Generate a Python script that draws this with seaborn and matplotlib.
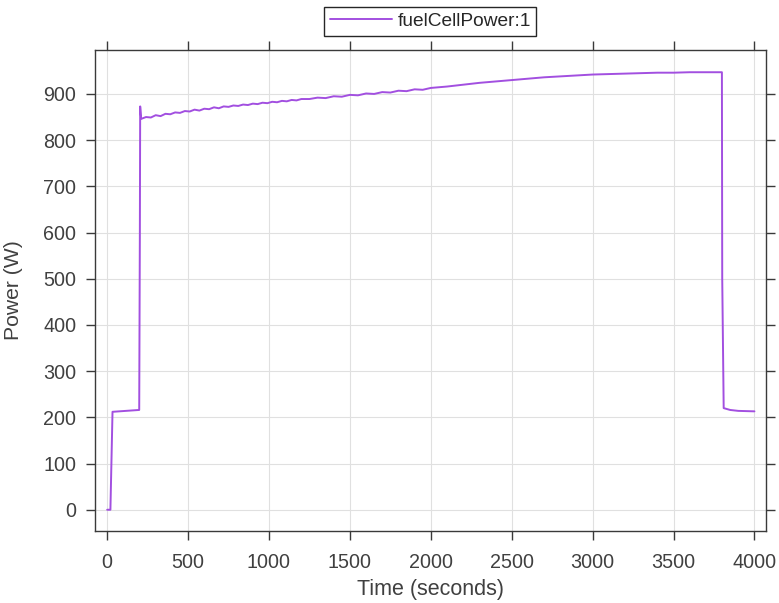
import numpy as np
import pandas as pd
import matplotlib
matplotlib.use("Agg")
import matplotlib.pyplot as plt
import seaborn as sns

# ---- data ----
time_s = [0, 20, 33, 198, 202, 204, 210, 240, 270, 300, 330, 360, 390, 420, 450, 480,
          510, 540, 570, 600, 630, 660, 690, 720, 750, 780, 810, 840, 870, 900, 930,
          960, 990, 1020, 1050, 1080, 1110, 1140, 1170, 1200, 1250, 1300, 1350, 1400,
          1450, 1500, 1550, 1600, 1650, 1700, 1750, 1800, 1850, 1900, 1950, 2000,
          2100, 2200, 2300, 2400, 2500, 2600, 2700, 2800, 2900, 3000, 3100, 3200,
          3300, 3400, 3500, 3600, 3700, 3799, 3801, 3810, 3850, 3900, 4000]
power_w = [0, 0, 212, 216, 600, 873, 846, 850, 849, 854, 852, 857, 856, 860, 859, 863,
           862, 866, 864, 868, 867, 871, 869, 873, 872, 875, 874, 877, 876, 879, 878,
           881, 880, 883, 882, 885, 884, 887, 886, 889, 889, 892, 891, 895,
           894, 898, 897, 901, 900, 904, 903, 907, 906, 910, 909, 913,
           916, 920, 924, 927, 930, 933, 936, 938, 940, 942, 943, 944,
           945, 946, 946, 947, 947, 947, 500, 220, 216, 214, 213]
series_name = "fuelCellPower:1"
x_ticks = [0, 500, 1000, 1500, 2000, 2500, 3000, 3500, 4000]
y_ticks = [0, 100, 200, 300, 400, 500, 600, 700, 800, 900]

df = pd.DataFrame({"Time": time_s, "Power": power_w, "series": series_name})

sns.set_theme(style="white")
plt.rcParams["font.family"] = ["Liberation Sans", "DejaVu Sans"]

fig = plt.figure(figsize=(7.79, 6.03), dpi=100)
ax = fig.add_axes([0.122, 0.1194, 0.861, 0.7976])

sns.lineplot(data=df, x="Time", y="Power", hue="series", palette=["#a24fe0"],
             estimator=None, sort=False, linewidth=1.4, ax=ax)

ax.set_xlim(-75, 4070)
ax.set_ylim(-46, 995)
ax.set_xticks(x_ticks)
ax.set_yticks(y_ticks)
ax.grid(True, color="#e0e0e0", linewidth=0.8)
ax.set_axisbelow(True)

txt_col = "#404040"
for s in ax.spines.values():
    s.set_color("#3a3a3a")
    s.set_linewidth(1.0)
    s.set_visible(True)
ax.tick_params(axis="both", which="major", direction="out", length=6.5, width=1.0,
               color="#3a3a3a", labelsize=14.2, labelcolor=txt_col,
               top=True, right=True, bottom=True, left=True)
ax.tick_params(axis="y", pad=7)
ax.tick_params(axis="x", pad=9)
ax.set_xlabel("Time (seconds)", fontsize=15.5, color=txt_col)
ax.set_ylabel("Power (W)", fontsize=15.2, color=txt_col)
ax.xaxis.set_label_coords(0.5, -0.099)
ax.yaxis.set_label_coords(-0.108, 0.5)

leg = ax.legend(loc="lower center", bbox_to_anchor=(0.5, 1.03), frameon=True,
                fancybox=False, framealpha=1, edgecolor="#262626", fontsize=13.8,
                handlelength=3.2, borderpad=0.3, handletextpad=0.3, borderaxespad=0)
leg.get_frame().set_linewidth(1.0)
for t in leg.get_texts():
    t.set_color("#262626")

fig.savefig("out.png", dpi=100)
